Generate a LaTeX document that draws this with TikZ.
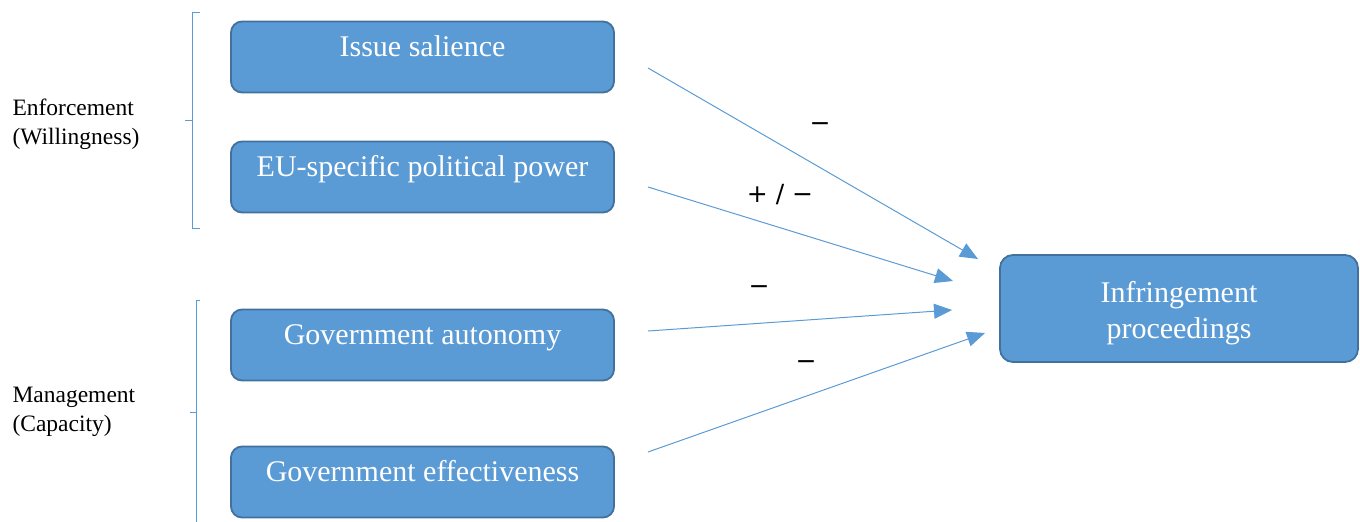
\documentclass[tikz,border=0pt]{standalone}
\usepackage{fontspec}
\setmainfont{Liberation Serif}
\newfontfamily\signfont{DejaVu Sans}
\usetikzlibrary{arrows.meta,positioning,calc}
\definecolor{boxblue}{HTML}{5B9BD5}
\definecolor{edgeblue}{HTML}{41719C}

\begin{document}
\begin{tikzpicture}[x=1pt, y=-1pt, >={Triangle[length=18pt,width=15pt]},
  b/.style={draw=edgeblue, line width=1.8pt, fill=boxblue, rounded corners=11pt, text=white,
    minimum width=383pt, minimum height=71pt, inner sep=0pt,
    font=\fontsize{30}{36}\selectfont, text height=20pt, text depth=21pt},
  dv/.style={draw=edgeblue, line width=1.8pt, fill=boxblue, rounded corners=13pt, text=white,
    minimum width=358pt, minimum height=107pt, align=center, font=\fontsize{30}{36}\selectfont},
  a/.style={->, draw=boxblue, line width=1pt},
  s/.style={font=\signfont\fontsize{25}{30}\selectfont},
  g/.style={align=left, anchor=west, font=\fontsize{23.5}{29}\selectfont},
  br/.style={draw=boxblue, line width=1pt}]
\useasboundingbox (0,0) rectangle (1360,522);

\node[b] (issue) at (422.5,57) {Issue salience};
\node[b] (power) at (422.5,177) {EU-specific political power};
\node[b] (auto) at (422.5,345) {Government autonomy};
\node[b] (eff) at (422.5,482) {Government effectiveness};
\node[dv] (inf) at (1179,308.5) {\rule{0pt}{30pt}Infringement\\ proceedings};

\coordinate (i0) at (648,68);   \coordinate (i1) at (978,259);
\coordinate (p0) at (648,187);  \coordinate (p1) at (953,281);
\coordinate (g0) at (648,331);  \coordinate (g1) at (952,310);
\coordinate (e0) at (648,452);  \coordinate (e1) at (985,333);
\draw[a] (i0) -- (i1);
\draw[a] (p0) -- (p1);
\draw[a] (g0) -- (g1);
\draw[a] (e0) -- (e1);

\node[s] (si) at (820,127) {−};
\node[s] (sp) at (780,195) {+ / −};
\node[s] (sg) at (759,290) {−};
\node[s] (se) at (806,365) {−};

% groups
\draw[br] (200,12) -- (192,12) -- (192,228) -- (200,228);
\draw[br] (192,120) -- (185,120);
\draw[br] (200,300) -- (196,300) -- (196,524);
\draw[br] (196,412) -- (190,412);
\node[g] (enf) at (9,124) {Enforcement\\(Willingness)};
\node[g] (man) at (9,412) {Management\\(Capacity)};
\end{tikzpicture}
\end{document}
